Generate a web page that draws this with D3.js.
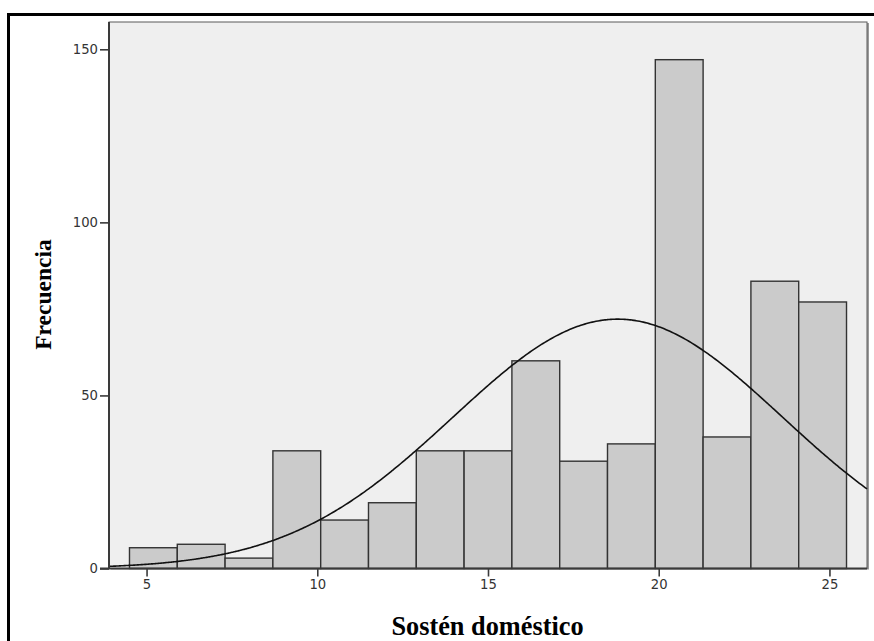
<!DOCTYPE html>
<html>
<head>
<meta charset="utf-8">
<script src="https://cdn.jsdelivr.net/npm/d3@7"></script>
<style>
  html, body { margin: 0; padding: 0; background: #ffffff; }
  svg { display: block; }
</style>
</head>
<body>
<svg id="chart" width="874" height="641"></svg>
<script>
// Histogram bins: lower edges start at 4.5, each 1.4 units wide
const binStart = 4.5;
const binWidth = 1.4;
const counts = [6, 7, 3, 34, 14, 19, 34, 34, 60, 31, 36, 147, 38, 83, 77];

// Axis ticks
const xTicks = [5, 10, 15, 20, 25];
const yTicks = [0, 50, 100, 150];

// Fitted normal curve parameters
const curveMean = 18.8;
const curveSd = 4.83;

const xTitle = "Sostén doméstico";
const yTitle = "Frecuencia";

const svg = d3.select("#chart");

// Plot region
const plotL = 109, plotR = 867, plotT = 22, plotB = 568.5;

const x = d3.scaleLinear().domain([3.9, 26.1]).range([plotL, plotR]);
const y = d3.scaleLinear().domain([0, 150]).range([plotB, 49.3]);

// Outer frame
svg.append("rect")
  .attr("x", 8.5).attr("y", 14.5)
  .attr("width", 900).attr("height", 700)
  .attr("fill", "none").attr("stroke", "#000").attr("stroke-width", 3);

// Plot background with a soft shadow on the right
svg.append("rect")
  .attr("x", plotL + 2).attr("y", plotT + 1)
  .attr("width", plotR - plotL).attr("height", plotB - plotT)
  .attr("fill", "#9a9a9a");
svg.append("rect")
  .attr("x", plotL).attr("y", plotT)
  .attr("width", plotR - plotL).attr("height", plotB - plotT)
  .attr("fill", "#efefef").attr("stroke", "#5a5a5a").attr("stroke-width", 1);

// Bars
const bins = counts.map((c, i) => ({
  x0: binStart + i * binWidth,
  x1: binStart + (i + 1) * binWidth,
  count: c
}));

svg.append("g").selectAll("rect")
  .data(bins)
  .join("rect")
  .attr("x", d => x(d.x0))
  .attr("y", d => y(d.count))
  .attr("width", d => x(d.x1) - x(d.x0))
  .attr("height", d => y(0) - y(d.count))
  .attr("fill", "#cbcbcb")
  .attr("stroke", "#333")
  .attr("stroke-width", 1.4);

// Normal curve scaled to the histogram
const total = d3.sum(counts);
const pts = d3.range(0, 401).map(k => {
  const v = 3.9 + (26.1 - 3.9) * k / 400;
  const z = (v - curveMean) / curveSd;
  return [v, total * binWidth / (curveSd * Math.sqrt(2 * Math.PI)) * Math.exp(-0.5 * z * z)];
});
svg.append("path")
  .datum(pts)
  .attr("d", d3.line().x(d => x(d[0])).y(d => y(d[1])).curve(d3.curveBasis))
  .attr("fill", "none")
  .attr("stroke", "#111")
  .attr("stroke-width", 1.6);

// Axes
const yAxis = svg.append("g")
  .attr("transform", `translate(${plotL},0)`)
  .call(d3.axisLeft(y).tickValues(yTicks).tickSize(9).tickPadding(2).tickFormat(d3.format("d")));
const xAxis = svg.append("g")
  .attr("transform", `translate(0,${plotB})`)
  .call(d3.axisBottom(x).tickValues(xTicks).tickSize(8).tickPadding(3).tickFormat(d3.format("d")));

[xAxis, yAxis].forEach(g => {
  g.select(".domain").attr("stroke", "#3a3a3a").attr("stroke-width", 2);
  g.selectAll(".tick line").attr("stroke", "#3a3a3a").attr("stroke-width", 1.6);
  g.selectAll(".tick text")
    .attr("fill", "#333")
    .style("font-family", "'DejaVu Sans', sans-serif")
    .style("font-size", "13.2px");
});
// Extend the baseline across to the zero tick
xAxis.select(".domain").attr("d", `M${plotL - 9},0H${plotR}`);
yAxis.select(".domain").attr("d", `M0,${plotB}V${plotT}`);

// Axis titles
svg.append("text")
  .attr("x", 487.5).attr("y", 635)
  .attr("text-anchor", "middle")
  .style("font-family", "'Liberation Serif', 'Times New Roman', serif")
  .style("font-weight", "bold")
  .style("font-size", "26.3px")
  .attr("fill", "#000")
  .text(xTitle);

svg.append("text")
  .attr("transform", "translate(51,294.5) rotate(-90)")
  .attr("text-anchor", "middle")
  .style("font-family", "'Liberation Serif', 'Times New Roman', serif")
  .style("font-weight", "bold")
  .style("font-size", "23.5px")
  .attr("fill", "#000")
  .text(yTitle);
</script>
</body>
</html>
